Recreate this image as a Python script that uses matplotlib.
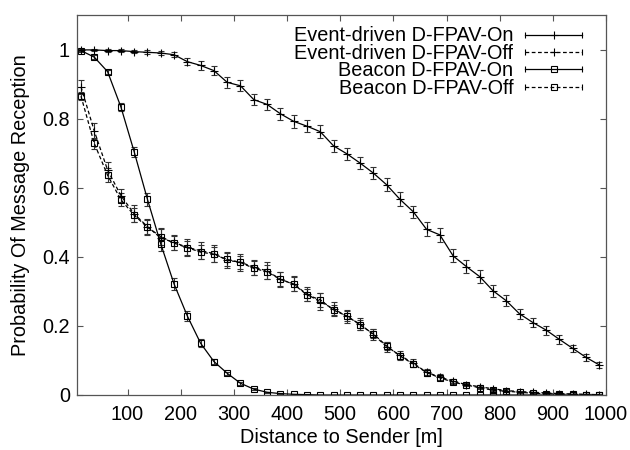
import numpy as np
import matplotlib
matplotlib.use('Agg')
import matplotlib.pyplot as plt
from matplotlib.lines import Line2D
from matplotlib.legend_handler import HandlerLine2D, HandlerTuple

plt.rcParams['font.family'] = ['Liberation Sans', 'DejaVu Sans']
plt.rcParams['font.size'] = 14.3

# distance of each sample [m]
dist = [12.5, 37.5, 62.5, 87.5, 112.5, 137.5, 162.5, 187.5, 212.5, 237.5,
        262.5, 287.5, 312.5, 337.5, 362.5, 387.5, 412.5, 437.5, 462.5, 487.5,
        512.5, 537.5, 562.5, 587.5, 612.5, 637.5, 662.5, 687.5, 712.5, 737.5,
        762.5, 787.5, 812.5, 837.5, 862.5, 887.5, 912.5, 937.5, 962.5, 987.5]

event_on = [1.0, 1.0, 0.998, 0.998, 0.995, 0.993, 0.991, 0.986, 0.966, 0.955,
            0.94, 0.906, 0.896, 0.856, 0.842, 0.815, 0.793, 0.779, 0.763, 0.722,
            0.699, 0.672, 0.643, 0.609, 0.567, 0.531, 0.48, 0.464, 0.403, 0.372,
            0.343, 0.302, 0.273, 0.235, 0.21, 0.188, 0.161, 0.135, 0.109, 0.087]
event_on_err = [0.002, 0.003, 0.004, 0.004, 0.005, 0.006, 0.007, 0.008, 0.01, 0.012,
                0.013, 0.015, 0.016, 0.017, 0.017, 0.018, 0.018, 0.017, 0.018, 0.018,
                0.017, 0.018, 0.018, 0.019, 0.02, 0.018, 0.02, 0.02, 0.019, 0.018,
                0.018, 0.017, 0.016, 0.015, 0.014, 0.013, 0.012, 0.011, 0.01, 0.009]

event_off = [0.893, 0.765, 0.652, 0.578, 0.525, 0.488, 0.455, 0.442, 0.428, 0.418,
             0.41, 0.39, 0.385, 0.37, 0.36, 0.335, 0.322, 0.292, 0.27, 0.25,
             0.228, 0.205, 0.175, 0.14, 0.115, 0.092, 0.066, 0.052, 0.04, 0.03,
             0.024, 0.018, 0.013, 0.01, 0.008, 0.006, 0.004, 0.003, 0.002, 0.001]
event_off_err = [0.02, 0.022, 0.022, 0.02, 0.025, 0.022, 0.025, 0.022, 0.025, 0.025,
                 0.025, 0.022, 0.025, 0.022, 0.025, 0.022, 0.022, 0.02, 0.025, 0.02,
                 0.018, 0.018, 0.015, 0.015, 0.013, 0.012, 0.01, 0.008, 0.006, 0.005,
                 0.004, 0.003, 0.003, 0.002, 0.002, 0.002, 0.001, 0.001, 0.001, 0.001]

beacon_on = [0.998, 0.979, 0.937, 0.835, 0.705, 0.567, 0.438, 0.322, 0.229, 0.15,
             0.097, 0.063, 0.034, 0.017, 0.008, 0.004, 0.002, 0.001, 0.0, 0.0,
             0.0, 0.0, 0.0, 0.0, 0.0, 0.0, 0.0, 0.0, 0.0, 0.0,
             0.0, 0.0, 0.0, 0.0, 0.0, 0.0, 0.0, 0.0, 0.0, 0.0]
beacon_on_err = [0.003, 0.005, 0.006, 0.012, 0.015, 0.018, 0.02, 0.017, 0.015, 0.012,
                 0.008, 0.005, 0.004, 0.003, 0.002, 0.001, 0.001, 0.001, 0.0, 0.0,
                 0.0, 0.0, 0.0, 0.0, 0.0, 0.0, 0.0, 0.0, 0.0, 0.0,
                 0.0, 0.0, 0.0, 0.0, 0.0, 0.0, 0.0, 0.0, 0.0, 0.0]

beacon_off = [0.866, 0.729, 0.637, 0.566, 0.521, 0.486, 0.459, 0.44, 0.427, 0.414,
              0.408, 0.393, 0.384, 0.367, 0.357, 0.335, 0.321, 0.29, 0.276, 0.246,
              0.229, 0.203, 0.177, 0.142, 0.113, 0.09, 0.065, 0.05, 0.037, 0.029,
              0.021, 0.014, 0.011, 0.008, 0.005, 0.004, 0.003, 0.002, 0.001, 0.001]
beacon_off_err = [0.012, 0.015, 0.02, 0.018, 0.02, 0.022, 0.025, 0.02, 0.02, 0.02,
                  0.022, 0.02, 0.02, 0.02, 0.02, 0.02, 0.02, 0.018, 0.02, 0.015,
                  0.014, 0.015, 0.013, 0.012, 0.01, 0.008, 0.007, 0.006, 0.005, 0.004,
                  0.003, 0.003, 0.002, 0.002, 0.002, 0.001, 0.001, 0.001, 0.001, 0.001]

labels = ['Event-driven D-FPAV-On', 'Event-driven D-FPAV-Off',
          'Beacon D-FPAV-On', 'Beacon D-FPAV-Off']

dash = (0, (3, 2))
series = [
    (event_on, event_on_err, '-', '+', 6),
    (event_off, event_off_err, dash, '+', 6),
    (beacon_on, beacon_on_err, '-', 's', 5),
    (beacon_off, beacon_off_err, dash, 's', 5),
]

fig = plt.figure(figsize=(6.3, 4.5), dpi=100)
ax = fig.add_axes([77/630, 1-395/450, 529/630, 380.3/450])

handles = []
hmap = {}
for (y, err, ls, mk, ms) in series:
    ax.errorbar(dist, y, yerr=err, color='k', ls=ls, lw=0.9,
                marker=mk, ms=ms, mfc='none', mew=0.8,
                ecolor='#333333', elinewidth=0.8, capsize=2.5, capthick=0.8)
    ends = Line2D([], [], color='k', ls=ls, lw=0.9, marker='|', ms=5, mew=0.8)
    mid = Line2D([], [], color='k', lw=0, marker=mk, ms=ms, mfc='none', mew=0.8)
    hmap[ends] = HandlerLine2D(numpoints=2, marker_pad=0)
    hmap[mid] = HandlerLine2D(numpoints=1)
    handles.append((ends, mid))
hmap[tuple] = HandlerTuple(ndivide=1)

ax.set_xlim(5, 1000)
ax.set_ylim(0, 1.102)
ax.set_xticks([100, 200, 300, 400, 500, 600, 700, 800, 900, 1000])
ax.set_yticks([0, 0.2, 0.4, 0.6, 0.8, 1])
ax.set_yticklabels(['0', '0.2', '0.4', '0.6', '0.8', '1'])
ax.tick_params(direction='in', length=4, width=0.8, color='#555555',
               top=True, right=True, labelsize=14.3)
ax.tick_params(axis='x', pad=7)
ax.tick_params(axis='y', pad=5)
for s in ax.spines.values():
    s.set_color('#555555')
    s.set_linewidth(0.9)

ax.set_xlabel('Distance to Sender [m]', fontsize=14.3, labelpad=3)
ax.set_ylabel('Probability Of Message Reception', fontsize=14.3, labelpad=9)

leg = ax.legend(handles, labels, handler_map=hmap, loc='upper right',
                bbox_to_anchor=(0.955, 0.969), frameon=False, markerfirst=False,
                borderaxespad=0, borderpad=0, handlelength=2.87, handletextpad=0.6,
                labelspacing=-0.08, fontsize=14.3)

fig.savefig('out.png', dpi=100)
